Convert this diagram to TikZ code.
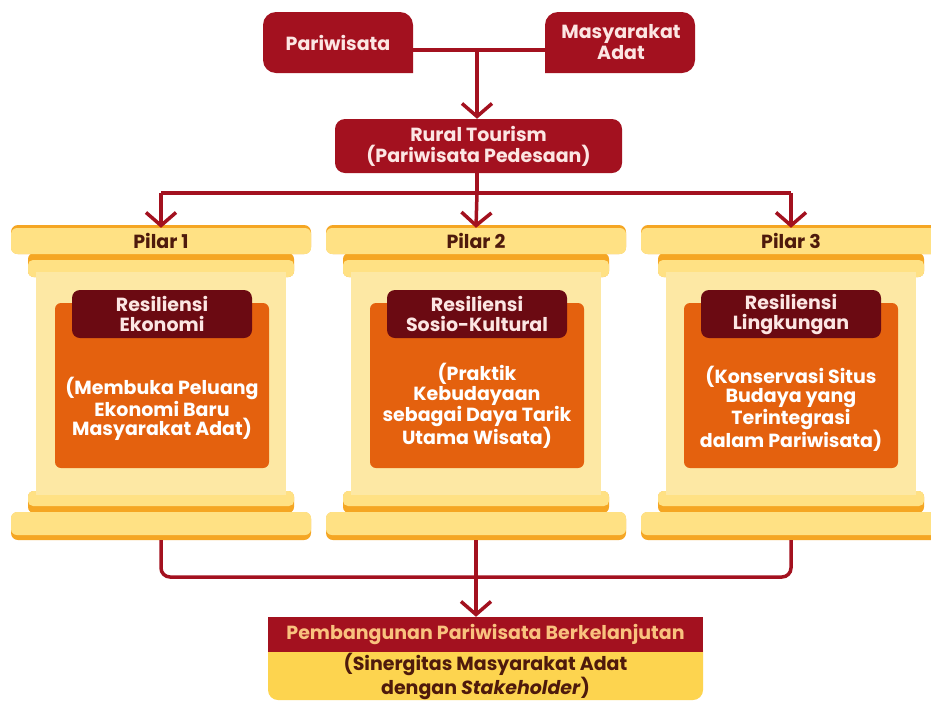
\documentclass[tikz,border=0pt]{standalone}
\usepackage{fontspec}
\setmainfont{Poppins}
\usetikzlibrary{arrows.meta}
\definecolor{cred}{HTML}{A3111F}
\definecolor{cmaroon}{HTML}{6B0A12}
\definecolor{corange}{HTML}{E4610E}
\definecolor{cslab}{HTML}{FFE184}
\definecolor{cshaft}{HTML}{FDE8A4}
\definecolor{cedge}{HTML}{F5A623}
\definecolor{cgold}{HTML}{FDD44F}
\definecolor{cbrown}{HTML}{4E1A0C}
\definecolor{cpink}{HTML}{FCE6E3}
\definecolor{cpeach}{HTML}{F9C27E}
\tikzset{
  conn/.style={draw=cred, line width=3.5pt},
  barb/.style={-{Straight Barb[length=13pt,width=30pt,line width=3.5pt]}},
  ttext/.style={font=\bfseries\fontsize{19}{21}\selectfont, text=cpink, align=center, inner sep=0pt},
  hdr/.style={fill=cmaroon, rounded corners=8pt, minimum width=180pt, minimum height=48pt, inner sep=0pt,
     font=\bfseries\fontsize{19}{20}\selectfont, text=cpink, align=center},
  obox/.style={fill=corange, rounded corners=6pt, minimum width=214pt, minimum height=165pt, inner sep=0pt},
  body/.style={font=\bfseries\fontsize{19}{19.5}\selectfont, text=white, align=center, inner sep=0pt},
  ptitle/.style={font=\bfseries\fontsize{19}{20}\selectfont, text=cbrown, inner sep=0pt},
  pbox/.style={minimum width=300pt, minimum height=315pt, inner sep=0pt},
}
\newcommand{\drawpillar}[1]{%
  \fill[cshaft] ({#1-125},270) rectangle ({#1+125},497);
  \fill[cedge, rounded corners=6pt] ({#1-133},253) rectangle ({#1+133},277);
  \fill[cslab, rounded corners=5pt] ({#1-133},260) rectangle ({#1+133},277);
  \fill[cshaft] ({#1-125},272) rectangle ({#1+125},280);
  \fill[cedge, rounded corners=6pt] ({#1-133},491) rectangle ({#1+133},513);
  \fill[cslab, rounded corners=5pt] ({#1-133},491) rectangle ({#1+133},506);
  \fill[cshaft] ({#1-125},488) rectangle ({#1+125},495);
  \fill[cedge, rounded corners=7pt] ({#1-150},225) rectangle ({#1+150},254);
  \fill[cslab, rounded corners=6pt] ({#1-150},228) rectangle ({#1+150},254);
  \fill[cedge, rounded corners=7pt] ({#1-150},512) rectangle ({#1+150},540);
  \fill[cslab, rounded corners=6pt] ({#1-150},512) rectangle ({#1+150},535);
}
\begin{document}
\begin{tikzpicture}[x=1pt,y=-1pt]
\useasboundingbox (0,0) rectangle (931,702);
\fill[white] (0,0) rectangle (931,702);

% top boxes
\fill[cred] (413,73) [rounded corners=13pt] -- (263,73) -- (263,12) -- (413,12) [sharp corners] -- (413,73) -- cycle;
\fill[cred] (545,73) [rounded corners=13pt] -- (695,73) -- (695,12) -- (545,12) [sharp corners] -- (545,73) -- cycle;
\node[ttext, minimum width=150pt, minimum height=61pt] (pw) at (338,42.5) {Pariwisata};
\node[ttext, minimum width=150pt, minimum height=61pt] (ma) at (621,42.5) {Masyarakat\\Adat};

\node[ttext, fill=cred, rounded corners=10pt, minimum width=287pt, minimum height=54pt] (rt) at (478.5,146) {Rural Tourism\\(Pariwisata Pedesaan)};

\coordinate (j1) at (477,50);
\coordinate (j2) at (477,193);
\draw[conn] (pw.east |- j1) -- (ma.west |- j1);
\draw[conn, barb] (j1) -- (j1 |- rt.north);

% pillars
\drawpillar{161}
\drawpillar{476}
\drawpillar{791}
\node[pbox] (p1) at (161,382.5) {};
\node[pbox] (p2) at (476,382.5) {};
\node[pbox] (p3) at (791,382.5) {};

\node[ptitle] (t1) at (161,241) {Pilar 1};
\node[ptitle] (t2) at (476,241) {Pilar 2};
\node[ptitle] (t3) at (791,241) {Pilar 3};

\node[obox] (o1) at (162,385.5) {};
\node[obox] (o2) at (477,385.5) {};
\node[obox] (o3) at (791,385.5) {};
\node[hdr] (h1) at (162,314) {Resiliensi\\Ekonomi};
\node[hdr] (h2) at (477,314) {Resiliensi\\Sosio-Kultural};
\node[hdr] (h3) at (791,314) {Resiliensi\\Lingkungan};
\node[body] (b1) at (162,409) {(Membuka Peluang\\Ekonomi Baru\\Masyarakat Adat)};
\node[body] (b2) at (477,406) {(Praktik\\Kebudayaan\\sebagai Daya Tarik\\Utama Wisata)};
\node[body] (b3) at (791,409) {(Konservasi Situs\\Budaya yang\\Terintegrasi\\dalam Pariwisata)};

% connectors from rural tourism to pillars
\draw[conn] (rt.south -| j2) -- (j2);
\draw[conn] (j2 -| p1.north) -- (j2 -| p3.north);
\draw[conn, barb] (j2 -| p1.north) -- ([yshift=-3pt]p1.north);
\draw[conn, barb] (j2) -- ([yshift=-3pt]p2.north);
\draw[conn, barb] (j2 -| p3.north) -- ([yshift=-3pt]p3.north);

% bottom box
\fill[cgold, rounded corners=10pt] (268,640) -- (268,700) -- (703,700) -- (703,640) [sharp corners] -- cycle;
\node[fill=cred, minimum width=435pt, minimum height=35pt, inner sep=0pt,
      font=\bfseries\fontsize{19}{20}\selectfont, text=cpeach] (pb) at (485.5,634.5) {Pembangunan Pariwisata Berkelanjutan};
\node[font=\bfseries\fontsize{19}{20}\selectfont, text=cbrown, align=center, inner sep=0pt] (pc) at (485.5,676.5)
  {(Sinergitas Masyarakat Adat\\dengan \textit{Stakeholder})};

\coordinate (j3) at (477,577);
\draw[conn, rounded corners=9pt] (p1.south) -- (p1.south |- j3) -- (p3.south |- j3) -- (p3.south);
\draw[conn, barb] (p2.south) -- (p2.south |- pb.north);
\end{tikzpicture}
\end{document}
